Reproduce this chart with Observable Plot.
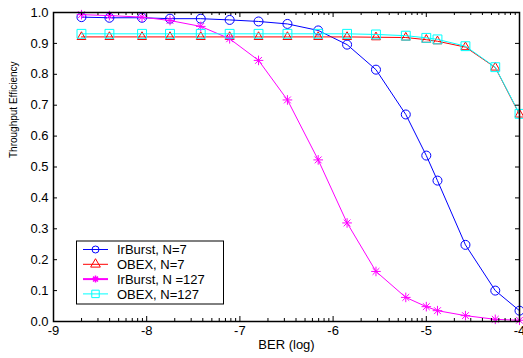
<!DOCTYPE html>
<html><head><meta charset="utf-8">
<script src="https://cdn.jsdelivr.net/npm/d3@7"></script>
<script src="https://cdn.jsdelivr.net/npm/@observablehq/plot@0.6"></script>
<style>body{margin:0;background:#fff}</style>
</head><body><div id="chart"></div>
<script>
// ---- data ----
const ber = [-8.70, -8.40, -8.05, -7.75, -7.42, -7.11, -6.80, -6.49, -6.16, -5.85, -5.54, -5.22, -5.00, -4.88, -4.58, -4.26, -4.00];
const irburst7   = [0.985, 0.983, 0.983, 0.980, 0.980, 0.976, 0.971, 0.963, 0.942, 0.896, 0.815, 0.670, 0.537, 0.456, 0.248, 0.100, 0.035];
const obex7      = [0.921, 0.921, 0.921, 0.921, 0.921, 0.921, 0.921, 0.921, 0.921, 0.921, 0.920, 0.919, 0.912, 0.907, 0.888, 0.822, 0.670];
const irburst127 = [0.993, 0.990, 0.985, 0.974, 0.955, 0.915, 0.845, 0.717, 0.523, 0.319, 0.162, 0.078, 0.048, 0.035, 0.019, 0.007, 0.004];
const obex127    = [0.931, 0.931, 0.931, 0.931, 0.931, 0.931, 0.931, 0.931, 0.931, 0.931, 0.929, 0.925, 0.918, 0.913, 0.891, 0.823, 0.672];
const seriesNames  = ["IrBurst, N=7", "OBEX, N=7", "IrBurst, N =127", "OBEX, N=127"];
const seriesValues = [irburst7, obex7, irburst127, obex127];
const seriesColors = ["#0000ff", "#ff0000", "#ff00ff", "#00ffff"];
const xMajor = [-9, -8, -7, -6, -5, -4];
const xTickLabels = ["-9", "-8", "-7", "-6", "-5", "-4"];
const yTicks = [0, 0.1, 0.2, 0.3, 0.4, 0.5, 0.6, 0.7, 0.8, 0.9, 1.0];
const yTickLabels = ["0.0", "0.1", "0.2", "0.3", "0.4", "0.5", "0.6", "0.7", "0.8", "0.9", "1.0"];
const xLabel = "BER (log)";
const yLabel = "Throughput Efficiency";

// ---- layout ----
const W = 523, H = 358, mL = 53, mR = 4, mT = 12, mB = 37;
const uy = 1 / (H - mT - mB);          // data units per pixel (y)
const ux = 5 / (W - mL - mR);          // data units per pixel (x)

// log-style minor ticks inside each decade
const xMinor = xMajor.slice(0, -1).flatMap(d => [2,3,4,5,6,7,8,9].map(k => d + Math.log10(k)));

// MATLAB-like 8-arm asterisk
const star = {draw(ctx, size) {
  const r = Math.sqrt(size / Math.PI), d = r * 0.7071;
  ctx.moveTo(-r, 0); ctx.lineTo(r, 0);
  ctx.moveTo(0, -r); ctx.lineTo(0, r);
  ctx.moveTo(-d, -d); ctx.lineTo(d, d);
  ctx.moveTo(-d, d); ctx.lineTo(d, -d);
}};
const symbols = ["circle", "triangle", star, "square"];
const radii = [4.5, 3.3, 4.8, 5.0];

const rows = seriesNames.flatMap((name, i) => ber.map((x, j) => ({series: name, x, y: seriesValues[i][j]})));

const seriesMarks = seriesNames.flatMap((name, i) => {
  const data = rows.filter(r => r.series === name);
  return [
    Plot.line(data, {x: "x", y: "y", stroke: seriesColors[i], strokeWidth: 1}),
    Plot.dot(data, {x: "x", y: "y", symbol: symbols[i], r: radii[i], stroke: seriesColors[i], fill: "none", strokeWidth: 1})
  ];
});

const chart = Plot.plot({
  width: W, height: H,
  marginLeft: mL, marginRight: mR, marginTop: mT, marginBottom: mB,
  style: {fontFamily: "'Liberation Sans', Arial, sans-serif", fontSize: "13px", background: "white", color: "black", overflow: "visible"},
  x: {domain: [-9, -4]},
  y: {domain: [0, 1]},
  marks: [
    ...seriesMarks,
    // inward ticks
    Plot.ruleX(xMinor, {x: d => d, y1: 0, y2: 3 * uy, stroke: "black"}),
    Plot.ruleX(xMinor, {x: d => d, y1: 1, y2: 1 - 3 * uy, stroke: "black"}),
    Plot.ruleX(xMajor, {x: d => d, y1: 0, y2: 5 * uy, stroke: "black"}),
    Plot.ruleX(xMajor, {x: d => d, y1: 1, y2: 1 - 5 * uy, stroke: "black"}),
    Plot.ruleY(yTicks, {y: d => d, x1: -9, x2: -9 + 4 * ux, stroke: "black"}),
    Plot.ruleY(yTicks, {y: d => d, x1: -4, x2: -4 - 4 * ux, stroke: "black"}),
    Plot.frame({stroke: "black", strokeWidth: 1.5}),
    Plot.axisX(xMajor, {tickSize: 0, tickPadding: 4, tickFormat: d => xTickLabels[xMajor.indexOf(d)], label: null, fontSize: 13}),
    Plot.axisY(yTicks, {tickSize: 0, tickPadding: 5, tickFormat: d => yTickLabels[yTicks.indexOf(d)], label: null, fontSize: 13}),
    Plot.text([xLabel], {text: d => d, frameAnchor: "bottom", dy: 27, fontSize: 13}),
    Plot.text([yLabel], {text: d => d, frameAnchor: "left", dx: -40, dy: -9, rotate: -90, fontSize: 10})
  ]
});

// legend drawn into the same svg
const svg = d3.select(chart);
const lg = svg.append("g").attr("text-anchor", "start").style("text-anchor", "start");
lg.append("rect").attr("x", 76.5).attr("y", 241).attr("width", 147).attr("height", 63)
  .attr("fill", "white").attr("stroke", "black").attr("stroke-width", 1);
const legR = [3.5, 3.6, 3.5, 4.2];
seriesNames.forEach((name, i) => {
  const cy = 249.5 + i * 14.8;
  lg.append("line").attr("x1", 83).attr("x2", 108).attr("y1", cy).attr("y2", cy)
    .attr("stroke", seriesColors[i]).attr("stroke-width", i === 2 ? 2 : 1);
  const sym = d3.symbol().type(typeof symbols[i] === "string"
    ? {circle: d3.symbolCircle, triangle: d3.symbolTriangle, square: d3.symbolSquare}[symbols[i]]
    : symbols[i]).size(Math.PI * legR[i] * legR[i]);
  lg.append("path").attr("d", sym()).attr("transform", `translate(95.5,${cy})`)
    .attr("fill", "none").attr("stroke", seriesColors[i]).attr("stroke-width", i === 2 ? 1.5 : 1);
  lg.append("text").attr("x", 117).attr("y", cy + 4.6).attr("font-size", 13)
    .attr("fill", "black").attr("text-anchor", "start").text(name);
});

document.getElementById("chart").appendChild(chart);
</script>
</body></html>
